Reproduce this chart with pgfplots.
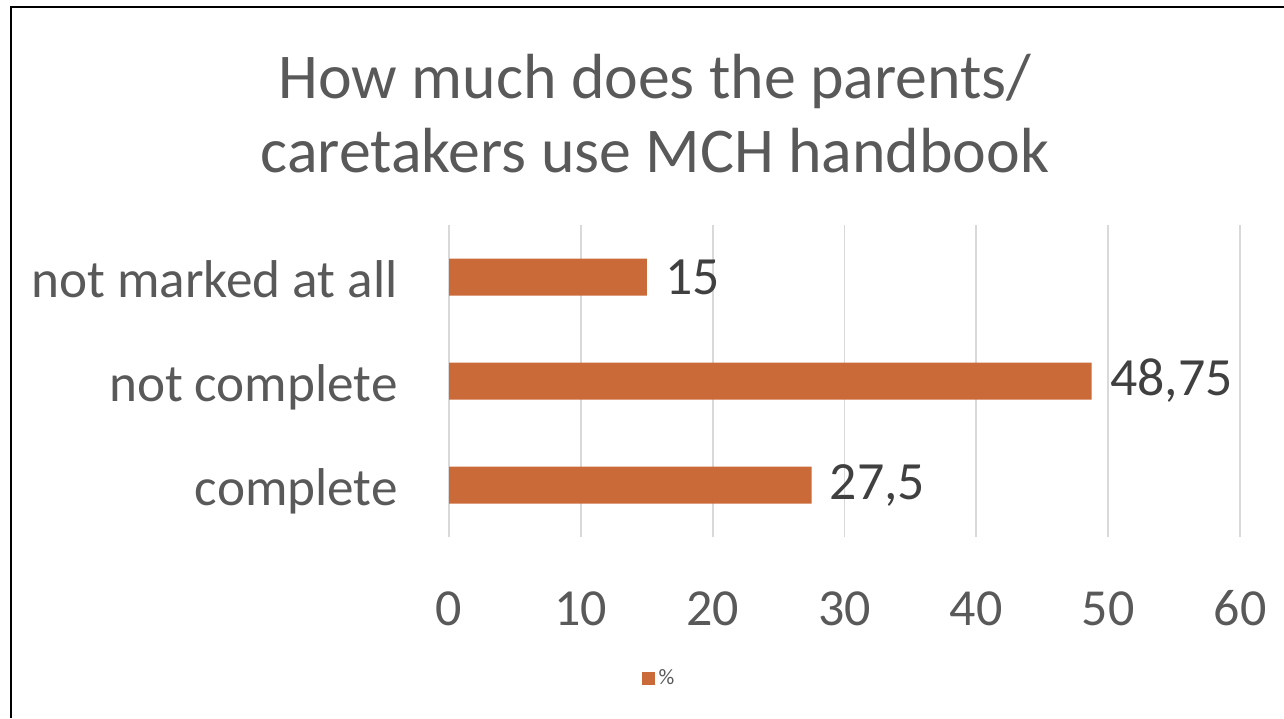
\documentclass[border=0pt]{standalone}
\usepackage{fontspec}
\setmainfont{Carlito}
\usepackage{pgfplots}
\pgfplotsset{compat=1.18}
\definecolor{barc}{HTML}{C96A38}
\definecolor{txt}{HTML}{595959}
\definecolor{dlab}{HTML}{404040}
\definecolor{grid}{HTML}{D9D9D9}

\begin{document}
\begin{tikzpicture}
% page frame, 1px = 0.5pt
\path[use as bounding box] (0,0) rectangle (642pt,-359pt);
\draw[black, line width=1.1pt] (5.5pt,-359pt) -- (5.5pt,-3.5pt) -- (642pt,-3.5pt);

\node[anchor=base, text=txt, font=\fontsize{31.9}{31.9}\selectfont] at (327.5pt,-49pt) {How much does the parents/};
\node[anchor=base, text=txt, font=\fontsize{31.9}{31.9}\selectfont] at (327.5pt,-86pt) {caretakers use MCH handbook};

\begin{axis}[
  at={(224.5pt,-268.5pt)}, anchor=south west,
  scale only axis, width=395.5pt, height=156pt,
  xbar, bar width=18.5pt,
  xmin=0, xmax=60, ymin=-0.5, ymax=2.5,
  xtick={0,10,...,60},
  ytick={0,1,2},
  yticklabels={complete,not complete,not marked at all},
  axis line style={draw=none},
  major tick length=0pt,
  xtick style={draw=none}, ytick style={draw=none},
  xmajorgrids, ymajorgrids=false,
  x grid style={grid, line width=0.9pt},
  /pgf/number format/assume math mode=true,
  /pgf/number format/use comma,
  /pgf/number format/precision=2,
  xticklabel style={anchor=base, yshift=-44pt, text=txt, font=\fontsize{26}{26}\selectfont},
  yticklabel style={anchor=base east, inner sep=0pt, xshift=-25.5pt, yshift=-10pt, text=txt, font=\fontsize{26.6}{26.6}\selectfont},
  nodes near coords,
  every node near coord/.append style={anchor=west, inner sep=0pt, xshift=9pt, text=dlab, font=\fontsize{26.9}{26.9}\selectfont},
  legend style={at={(0.2668,-0.452)}, anchor=center, draw=none, fill=none,
    font=\fontsize{11}{11}\selectfont, text=txt},
  legend image code/.code={\fill[barc] (0pt,-3.25pt) rectangle (6.5pt,3.25pt);},
  clip=false,
]
\addplot[fill=barc, draw=none] coordinates {(27.5,0) (48.75,1) (15,2)};
\addlegendentry{\%}
\end{axis}
\end{tikzpicture}
\end{document}
